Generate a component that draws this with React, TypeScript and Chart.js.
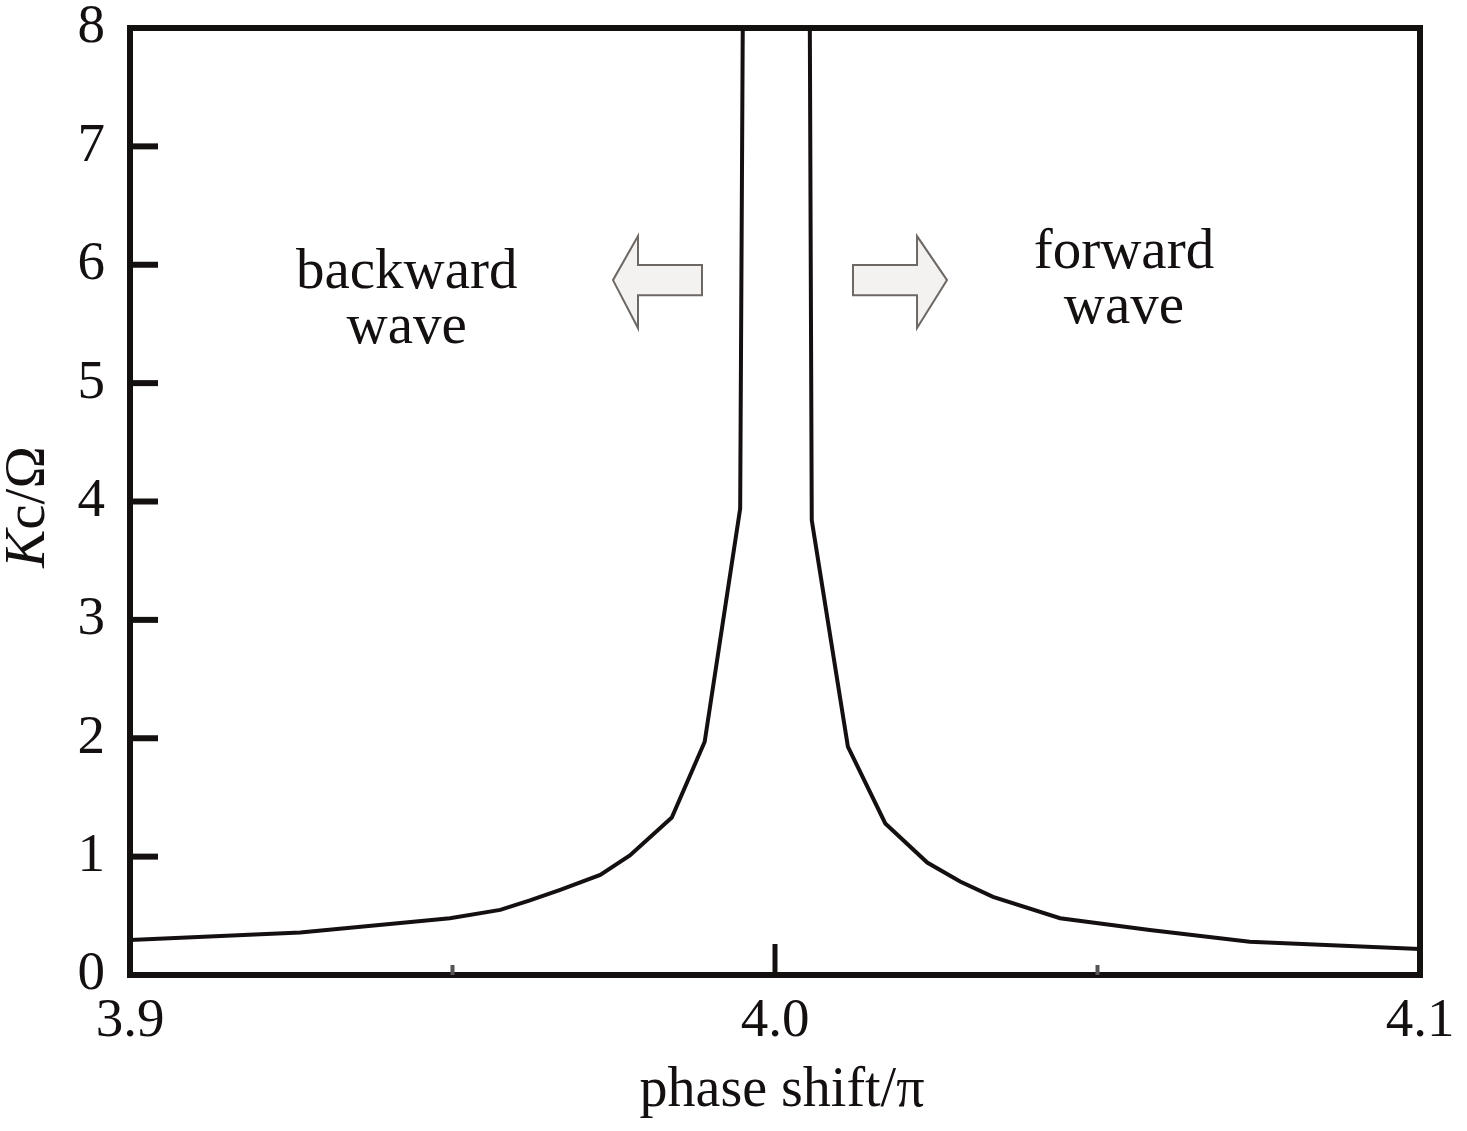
import React, { useEffect, useRef } from 'react';
import { Chart, registerables } from 'chart.js';

Chart.register(...registerables);

// ---- Data ----
const backwardX = [3.9, 3.9264, 3.9419, 3.9496, 3.9574, 3.962, 3.9667, 3.9729, 3.9775, 3.984, 3.9891, 3.9946, 3.995];
const backwardY = [0.296, 0.36, 0.44, 0.48, 0.55, 0.63, 0.72, 0.845, 1.01, 1.33, 1.97, 3.94, 8.0];
const forwardX = [4.0054, 4.0057, 4.0113, 4.0171, 4.0236, 4.0287, 4.0338, 4.0442, 4.0581, 4.0736, 4.1];
const forwardY = [8.0, 3.84, 1.93, 1.28, 0.95, 0.79, 0.66, 0.48, 0.38, 0.28, 0.22];

const xMajorTicks = [3.9, 4.0, 4.1];
const xMinorTicks = [3.95, 4.05];
const yTicks = [0, 1, 2, 3, 4, 5, 6, 7, 8];

const xTitle = 'phase shift/π';
const yTitleItalic = 'K';
const yTitleRest = 'c/Ω';

const textNotes = [
  { lines: ['backward', 'wave'], x: 3.9429, y: [5.80, 5.34] },
  { lines: ['forward', 'wave'], x: 4.0541, y: [5.97, 5.51] },
];

// arrows: tail, head base and tip x values
const arrows = [
  { tail: 3.98868, base: 3.97876, tip: 3.97488 },
  { tail: 4.01209, base: 4.02202, tip: 4.02667 },
];
const arrowY = { center: 5.87, headTop: 6.242, headBottom: 5.465, shaftTop: 5.997, shaftBottom: 5.743 };

const SERIF = '"Liberation Serif", "Times New Roman", Times, serif';
const INK = '#141010';

const framePlugin = {
  id: 'framePlugin',
  afterDraw(chart: any) {
    const { ctx, chartArea } = chart;
    const xs = chart.scales.x;
    const ys = chart.scales.y;
    const { left, right, top, bottom } = chartArea;
    ctx.save();

    // arrows
    arrows.forEach((a) => {
      const yc = ys.getPixelForValue(arrowY.center);
      const ht = ys.getPixelForValue(arrowY.headTop);
      const hb = ys.getPixelForValue(arrowY.headBottom);
      const st = ys.getPixelForValue(arrowY.shaftTop);
      const sb = ys.getPixelForValue(arrowY.shaftBottom);
      const tail = xs.getPixelForValue(a.tail);
      const base = xs.getPixelForValue(a.base);
      const tip = xs.getPixelForValue(a.tip);
      ctx.beginPath();
      ctx.moveTo(tail, st);
      ctx.lineTo(base, st);
      ctx.lineTo(base, ht);
      ctx.lineTo(tip, yc);
      ctx.lineTo(base, hb);
      ctx.lineTo(base, sb);
      ctx.lineTo(tail, sb);
      ctx.closePath();
      ctx.fillStyle = '#f4f2f0';
      ctx.fill();
      ctx.lineWidth = 2;
      ctx.strokeStyle = '#6e6865';
      ctx.lineJoin = 'miter';
      ctx.stroke();
    });

    // text notes
    ctx.fillStyle = INK;
    ctx.font = `57px ${SERIF}`;
    ctx.textAlign = 'center';
    ctx.textBaseline = 'alphabetic';
    textNotes.forEach((n) => {
      n.lines.forEach((line, i) => {
        ctx.fillText(line, xs.getPixelForValue(n.x), ys.getPixelForValue(n.y[i]));
      });
    });

    // frame
    ctx.strokeStyle = INK;
    ctx.lineWidth = 6;
    ctx.lineJoin = 'miter';
    ctx.strokeRect(left, top, right - left, bottom - top);

    // y inside ticks
    ctx.lineWidth = 6;
    yTicks.forEach((v) => {
      if (v === 0 || v === 8) return;
      const py = ys.getPixelForValue(v);
      ctx.beginPath();
      ctx.moveTo(left, py);
      ctx.lineTo(left + 28, py);
      ctx.stroke();
    });

    // x major inside tick at 4.0
    xMajorTicks.forEach((v) => {
      if (v === 3.9 || v === 4.1) return;
      const px = xs.getPixelForValue(v);
      ctx.lineWidth = 5;
      ctx.beginPath();
      ctx.moveTo(px, bottom);
      ctx.lineTo(px, bottom - 31);
      ctx.stroke();
    });
    // minor ticks
    ctx.strokeStyle = '#555';
    ctx.lineWidth = 4;
    xMinorTicks.forEach((v) => {
      const px = xs.getPixelForValue(v);
      ctx.beginPath();
      ctx.moveTo(px, bottom);
      ctx.lineTo(px, bottom - 10);
      ctx.stroke();
    });

    // x title
    ctx.fillStyle = INK;
    ctx.font = `56px ${SERIF}`;
    ctx.textAlign = 'center';
    ctx.textBaseline = 'alphabetic';
    ctx.fillText(xTitle, (left + right) / 2 + 7, 1106);

    // y title (rotated), K italic
    ctx.save();
    ctx.translate(44, 507);
    ctx.rotate(-Math.PI / 2);
    ctx.textAlign = 'left';
    const fontItalic = `italic 57px ${SERIF}`;
    const fontNormal = `57px ${SERIF}`;
    ctx.font = fontItalic;
    const w1 = ctx.measureText(yTitleItalic).width;
    ctx.font = fontNormal;
    const w2 = ctx.measureText(yTitleRest).width;
    const start = -(w1 + w2) / 2;
    ctx.font = fontItalic;
    ctx.fillText(yTitleItalic, start, 0);
    ctx.font = fontNormal;
    ctx.fillText(yTitleRest, start + w1, 0);
    ctx.restore();

    ctx.restore();
  },
};

export default function App() {
  const canvasRef = useRef<HTMLCanvasElement | null>(null);

  useEffect(() => {
    if (!canvasRef.current) return;
    const chart = new Chart(canvasRef.current, {
      type: 'scatter',
      data: {
        datasets: [
          {
            label: 'backward',
            data: backwardX.map((x, i) => ({ x, y: backwardY[i] })),
            showLine: true,
            borderColor: INK,
            borderWidth: 4,
            pointRadius: 0,
            tension: 0,
          },
          {
            label: 'forward',
            data: forwardX.map((x, i) => ({ x, y: forwardY[i] })),
            showLine: true,
            borderColor: INK,
            borderWidth: 4,
            pointRadius: 0,
            tension: 0,
          },
        ],
      },
      options: {
        animation: false,
        responsive: true,
        maintainAspectRatio: false,
        layout: { padding: { top: 28, right: 47, left: 0, bottom: 0 } },
        plugins: {
          legend: { display: false },
          tooltip: { enabled: false },
          title: { display: false },
        },
        scales: {
          x: {
            type: 'linear',
            min: 3.9,
            max: 4.1,
            grid: { display: false, drawTicks: false },
            border: { display: false },
            afterBuildTicks: (scale: any) => {
              scale.ticks = xMajorTicks.map((v) => ({ value: v }));
            },
            afterFit: (scale: any) => {
              scale.height = 156;
              scale.paddingLeft = 0;
              scale.paddingRight = 0;
            },
            ticks: {
              color: INK,
              font: { family: SERIF, size: 55 },
              padding: 14,
              maxRotation: 0,
              autoSkip: false,
              callback: (v: any) => Number(v).toFixed(1),
            },
          },
          y: {
            type: 'linear',
            min: 0,
            max: 8,
            grid: { display: false, drawTicks: false },
            border: { display: false },
            afterBuildTicks: (scale: any) => {
              scale.ticks = yTicks.map((v) => ({ value: v }));
            },
            afterFit: (scale: any) => {
              scale.width = 130;
              scale.paddingTop = 0;
              scale.paddingBottom = 0;
            },
            ticks: {
              color: INK,
              font: { family: SERIF, size: 55 },
              padding: 25,
              autoSkip: false,
              callback: (v: any) => String(v),
            },
          },
        },
      },
      plugins: [framePlugin],
    });
    return () => chart.destroy();
  }, []);

  return (
    <div style={{ position: 'fixed', left: 0, top: 0, width: 1467, height: 1131, background: '#fff' }}>
      <canvas ref={canvasRef} />
    </div>
  );
}
